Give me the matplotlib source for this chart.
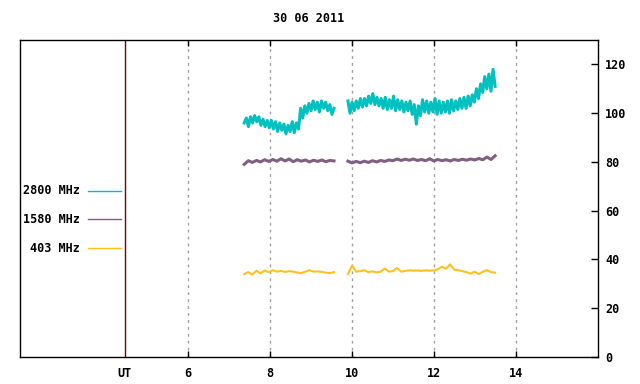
import numpy as np
import matplotlib
matplotlib.use("Agg")
import matplotlib.pyplot as plt

# Date in title
title = "30 06 2011"

# Observation segments (UT hours)
seg1 = (7.37, 9.56)
seg2 = (9.90, 13.49)

# 2800 MHz flux
f2800_a = [96, 98, 94.5, 98.5, 96, 99, 96.5, 98.5, 95, 97.5, 94.5, 97, 94, 97, 93.5,
           96.5, 92.5, 96, 93, 95.5, 91.5, 95, 92.5, 96.5, 92, 96, 93.5, 102, 98, 103,
           100, 104, 101, 105, 101.5, 104.5, 100.5, 105, 102, 104.5, 101, 103.5, 99.5, 102]
f2800_b = [105, 100, 104.5, 101, 105, 102, 106, 102.5, 106, 103, 107, 104, 108, 103.5,
           106.5, 103, 106, 102, 106.5, 101.5, 105.5, 102, 107, 101, 105.5, 101.5, 105,
           100.5, 104.5, 101, 105, 99.5, 103.5, 95.5, 103, 99, 105.5, 100.5, 105, 100,
           104.5, 100.5, 106, 99.5, 105, 100, 104.5, 100.5, 105, 100, 105.5, 101, 105,
           101.5, 106, 102, 106.5, 102, 107, 103, 107.5, 104.5, 110, 106, 112, 108.5,
           115, 110, 116, 109, 118, 111]

# 1580 MHz flux
f1580_a = [79.0, 80.5, 79.8, 80.6, 80.0, 80.9, 80.2, 81.0, 80.3, 81.3, 80.4, 81.2,
           80.1, 80.9, 80.3, 80.8, 80.0, 80.7, 80.2, 80.8, 80.1, 80.6, 80.4]
f1580_b = [80.3, 79.6, 80.2, 79.7, 80.3, 79.8, 80.5, 80.0, 80.6, 80.2, 80.8, 80.5,
           81.2, 80.6, 81.1, 80.7, 81.2, 80.6, 81.0, 80.5, 81.3, 80.4, 81.0, 80.5,
           80.9, 80.4, 81.0, 80.6, 81.1, 80.7, 81.2, 80.8, 81.4, 80.9, 82.0, 81.0, 82.5]

# 403 MHz flux
f403_a = [34.0, 34.8, 33.8, 35.4, 34.3, 35.5, 34.8, 35.6, 35.0, 35.3, 34.9, 35.2,
          35.0, 34.6, 34.4, 35.0, 35.6, 35.0, 35.1, 34.9, 34.6, 34.4, 34.8]
f403_b = [34.0, 37.5, 35.0, 35.2, 35.6, 34.8, 35.1, 34.7, 35.0, 36.3, 35.0, 35.2,
          36.5, 35.0, 35.3, 35.6, 35.4, 35.5, 35.3, 35.6, 35.4, 35.5, 36.0, 37.0,
          36.2, 38.0, 35.8, 35.6, 35.2, 34.8, 34.2, 35.0, 34.0, 35.0, 35.6, 34.8, 34.6]

x_ticks = [6, 8, 10, 12, 14]
y_ticks = [0, 20, 40, 60, 80, 100, 120]
ut_pos = 4.46

series = [
    ("2800 MHz", "#00c0c0", f2800_a, f2800_b, 2.2),
    ("1580 MHz", "#806080", f1580_a, f1580_b, 2.2),
    ("403 MHz", "#ffc020", f403_a, f403_b, 1.5),
]

font = dict(family="DejaVu Sans Mono", weight="bold", size=8.5)

fig = plt.figure(figsize=(6.4, 3.84), dpi=100)
ax = fig.add_axes([20 / 640, 1 - 357 / 384, 578 / 640, 317 / 384])
ax.set_xlim(1.9, 16.0)
ax.set_ylim(0, 130)

# dotted grid at hour ticks
for xt in x_ticks:
    ax.axvline(xt, color="#a0a0a0", lw=1, ls=(0, (2, 3)), zorder=1)
ax.axvline(ut_pos, color="#7a0000", lw=1, zorder=2)

for name, col, a, b, lw in series:
    ta = np.linspace(seg1[0], seg1[1], len(a))
    tb = np.linspace(seg2[0], seg2[1], len(b))
    ax.plot(ta, a, color=col, lw=lw, zorder=3)
    ax.plot(tb, b, color=col, lw=lw, zorder=3)

# ticks
ax.set_xticks([ut_pos] + x_ticks)
ax.set_xticklabels(["UT"] + [str(v) for v in x_ticks], **font)
ax.tick_params(axis="x", direction="in", length=4, width=1, top=True, pad=7)
ax.get_xticklines()[0].set_visible(False)
ax.get_xticklines()[1].set_visible(False)
ax.yaxis.tick_right()
ax.set_yticks(y_ticks)
ax.set_yticklabels([str(v) for v in y_ticks], **font)
ax.tick_params(axis="y", direction="in", length=5, width=1, pad=5)

for sp in ax.spines.values():
    sp.set_linewidth(1)

# legend on the left
leg_y = [0.5237, 0.4353, 0.3438]
for (name, col, a, b, lw), yy in zip(series, leg_y):
    ax.text(0.1038, yy, name, transform=ax.transAxes, ha="right", va="center", **font)
    ax.plot([0.1176, 0.1747], [yy, yy], transform=ax.transAxes, color=col, lw=1)

fig.text(309 / 640, 1 - 19 / 384, title, ha="center", va="center", **font)

fig.savefig("out.png", dpi=100)
